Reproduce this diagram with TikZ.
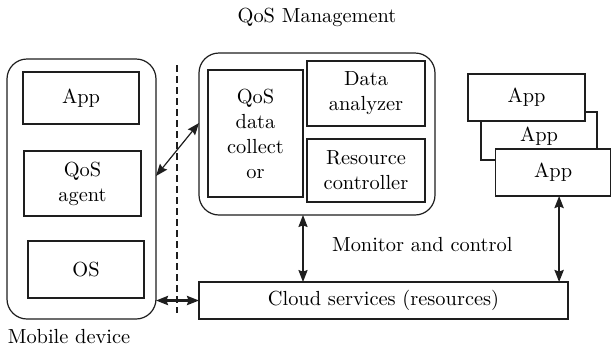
\documentclass[tikz,border=0pt]{standalone}
\usepackage{xcolor}
\definecolor{linecolor}{RGB}{30, 30, 30}
\usepackage{tikz}
\usetikzlibrary{arrows.meta, calc}

\begin{document}
\begin{tikzpicture}[
    x=0.5pt,y=-0.5pt,
    every node/.style={font=\rmfamily\fontsize{10.2}{12.5}\selectfont},
    box/.style={draw=linecolor,line width=0.6pt,fill=white,inner sep=0pt,
      outer sep=0pt,align=center},
    holder/.style={box,rounded corners=10pt},
    link/.style={draw=linecolor,line width=0.6pt,
      {Stealth[length=6pt,width=4.6pt,inset=0.8pt]}-{Stealth[length=6pt,width=4.6pt,inset=0.8pt]}},
    thick link/.style={link,line width=1.1pt}
  ]
  \useasboundingbox (0,0) rectangle (611,349);
  % mobile side
  \node[holder,minimum width=74.5pt,minimum height=130pt] (mobile) at (81.5,189) {};
  \node[box,minimum width=58pt,minimum height=26pt] (app) at (81,98) {App};
  \node[box,minimum width=58.5pt,minimum height=32.5pt] (agent) at (82.5,183.5) {QoS\\agent};
  \node[box,minimum width=58pt,minimum height=28.5pt] (os) at (86,269.5) {OS};
  \node (mobilelabel) at (69,337) {Mobile device};
  \draw[draw=linecolor,line width=0.6pt,dash pattern=on 3.5pt off 2pt] (177,65) -- (177,313);
  % QoS management
  \node[holder,minimum width=118pt,minimum height=81pt] (mgmt) at (317,134) {};
  \node (mgmtlabel) at (317,17) {QoS Management};
  \node[box,minimum width=47.5pt,minimum height=63.5pt] (collector) at (255.5,133.5)
    {QoS\\data\\collect\\or};
  \node[box,minimum width=59pt,minimum height=32.5pt] (analyzer) at (366,93.5) {Data\\analyzer};
  \node[box,minimum width=59pt,minimum height=31.5pt] (controller) at (366,170.5)
    {Resource\\controller};
  % apps
  \node[box,minimum width=58pt,minimum height=24pt] (apptwo) at (539,136) {App};
  \node[box,minimum width=58.5pt,minimum height=23.5pt] (appone) at (526.5,97.5) {App};
  \node[box,minimum width=57.25pt,minimum height=23.5pt] (appthree) at (553.1,172.5) {App};
  % cloud
  \node[box,minimum width=184.5pt,minimum height=18.5pt] (cloud) at (383.5,300.5)
    {Cloud services (resources)};
  \node[anchor=west] (monitor) at (325,245) {Monitor and control};
  % links
  \draw[link] ([yshift=6.5pt]mobile.east) -- ([yshift=5.5pt]mgmt.west);
  \draw[link] (collector.east |- mgmt.south) -- (collector.east |- cloud.north);
  \draw[thick link] (mobile.east |- cloud.west) -- (cloud.west);
  \draw[thick link] ([xshift=3pt]appthree.south) -- ([xshift=3pt]appthree.south |- cloud.north);
\end{tikzpicture}
\end{document}
